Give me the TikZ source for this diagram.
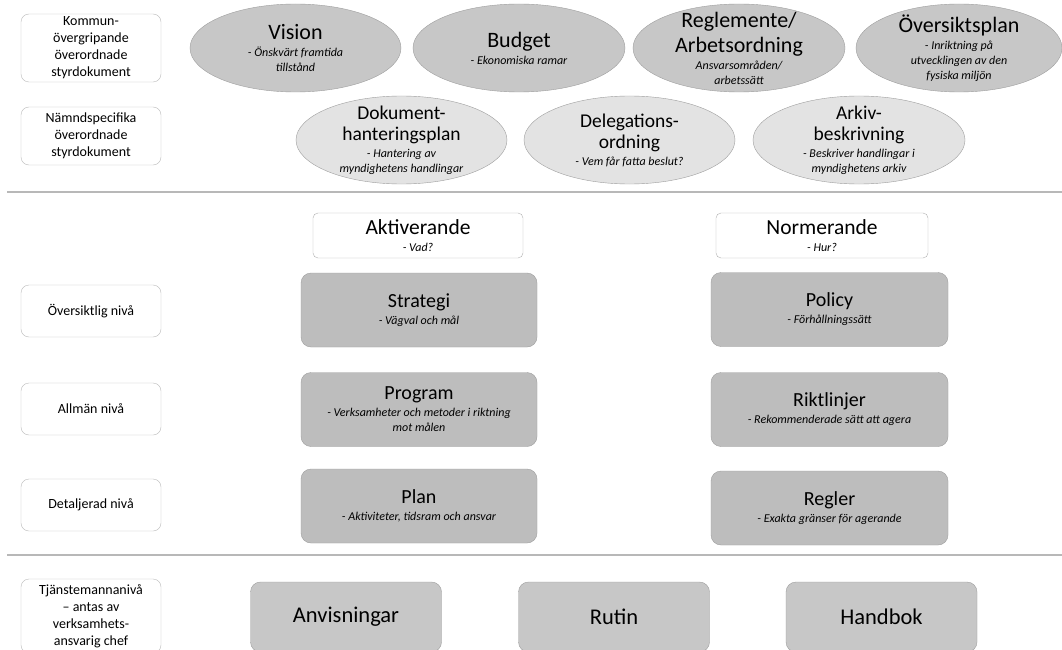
\documentclass[tikz,border=0pt]{standalone}
\usepackage{fontspec}
\setmainfont{Carlito}
\usetikzlibrary{shapes.geometric}

\definecolor{framegray}{gray}{0.62}
\definecolor{ringdark}{gray}{0.78}
\definecolor{ringlight}{gray}{0.89}
\definecolor{blockgray}{gray}{0.74}
\definecolor{rulegray}{gray}{0.72}

\newcommand{\subtext}[1]{\par\vspace{2pt}{\fontsize{12}{15}\selectfont\itshape #1\par}}
\newcommand{\brk}{\unskip\break}

\tikzset{levelbox/.style={draw=framegray!70, fill=white, rounded corners=8pt,
  minimum width=140pt, text width=136pt, align=flush center, inner sep=0pt,
  font=\fontsize{14}{17}\selectfont}}
\tikzset{ring/.style={ellipse, draw=framegray, minimum height=88pt, inner sep=0pt}}
\tikzset{ringtext/.style={text width=190pt, align=flush center, inner sep=0pt}}
\tikzset{block/.style={draw=framegray, fill=blockgray, rounded corners=10pt,
  minimum width=236pt, minimum height=74pt, text width=228pt, align=flush center,
  inner sep=0pt, font=\fontsize{20}{24}\selectfont}}
\tikzset{headbox/.style={draw=framegray!80, fill=white, rounded corners=5pt,
  minimum width=210pt, minimum height=45pt, text width=200pt, align=flush center,
  inner sep=0pt, font=\fontsize{21.5}{23}\selectfont}}
\tikzset{tailblock/.style={block, fill=ringdark, minimum width=191pt,
  minimum height=70pt, text width=185pt, font=\fontsize{22.5}{25}\selectfont}}

\begin{document}
\begin{tikzpicture}[x=1pt, y=-1pt]

\useasboundingbox (0,0) rectangle (1062,650);
\fill[white] (0,0) rectangle (1062,650);

% separators
\draw[rulegray, line width=1.2pt] (7,192) -- (1062,192);
\draw[rulegray, line width=1.2pt] (7,555) -- (1062,555);

% level labels on the left
\foreach \name/\y/\h/\txt in {
  kommun/48/68/{Kommun-\\övergripande\\överordnade\\styrdokument},
  namnd/136/58/{Nämndspecifika\\överordnade\\styrdokument},
  oversiktlig/311/52/{Översiktlig nivå},
  allman/409/52/{Allmän nivå},
  detaljerad/505/52/{Detaljerad nivå},
  tjanst/616/74/{Tjänstemannanivå\\– antas av\\verksamhets-\\ansvarig chef}}{
  \node[levelbox, minimum height=\h] (\name) at (91,\y) {\txt};
}

% governing documents
\foreach \name/\x/\y/\w/\col in {
  vision/295.5/48/211/ringdark, budget/519/48/212/ringdark,
  reglemente/739/48/212/ringdark, oplan/959/48/206/ringdark,
  dokplan/401.5/140/211/ringlight, delegation/629.5/140/211/ringlight,
  arkiv/859/140/212/ringlight}{
  \node[ring, fill=\col, minimum width=\w] (\name) at (\x,\y) {};
}

\begin{scope}[ringtext, font=\fontsize{22}{25}\selectfont]
\node (vision-txt) at (vision) {Vision\subtext{- Önskvärt framtida\brk tillstånd}};
\node (budget-txt) at (budget) {Budget\subtext{- Ekonomiska ramar}};
\node (reglemente-txt) at (reglemente) {Reglemente/\\Arbetsordning\subtext{Ansvarsområden/\brk arbetssätt}};
\node (oplan-txt) at (oplan) {Översiktsplan\subtext{- Inriktning på\brk utvecklingen av den\brk fysiska miljön}};
\end{scope}

\begin{scope}[ringtext, font=\fontsize{19.5}{21}\selectfont]
\node (dokplan-txt) at (dokplan) {Dokument-\\hanteringsplan\subtext{- Hantering av\brk myndighetens handlingar}};
\node (delegation-txt) at (delegation) {Delegations-\\ordning\subtext{- Vem får fatta beslut?}};
\node (arkiv-txt) at (arkiv) {Arkiv-\\beskrivning\subtext{- Beskriver handlingar i\brk myndighetens arkiv}};
\end{scope}

% column heads
\node[headbox] (aktiverande) at (418,235.5) {Aktiverande\subtext{- Vad?}};
\node[headbox, minimum width=212pt] (normerande) at (822,235.5) {Normerande\subtext{- Hur?}};

% steering documents
\node[block] (strategi) at (419,310) {Strategi\subtext{- Vägval och mål}};
\node[block] (program) at (419,409.5) {Program\subtext{- Verksamheter och metoder i riktning\brk mot målen}};
\node[block] (plan) at (419,506) {Plan\subtext{- Aktiviteter, tidsram och ansvar}};

\node[block, minimum width=237pt] (policy) at (829.5,309.5) {Policy\subtext{- Förhållningssätt}};
\node[block, minimum width=237pt] (riktlinjer) at (829.5,409.5) {Riktlinjer\subtext{- Rekommenderade sätt att agera}};
\node[block, minimum width=237pt] (regler) at (829.5,508) {Regler\subtext{- Exakta gränser för agerande}};

% officer level
\node[tailblock] (anvisningar) at (346,617) {Anvisningar};
\node[tailblock] (rutin) at (614,617) {Rutin};
\node[tailblock] (handbok) at (881.5,617) {Handbok};

\end{tikzpicture}
\end{document}
